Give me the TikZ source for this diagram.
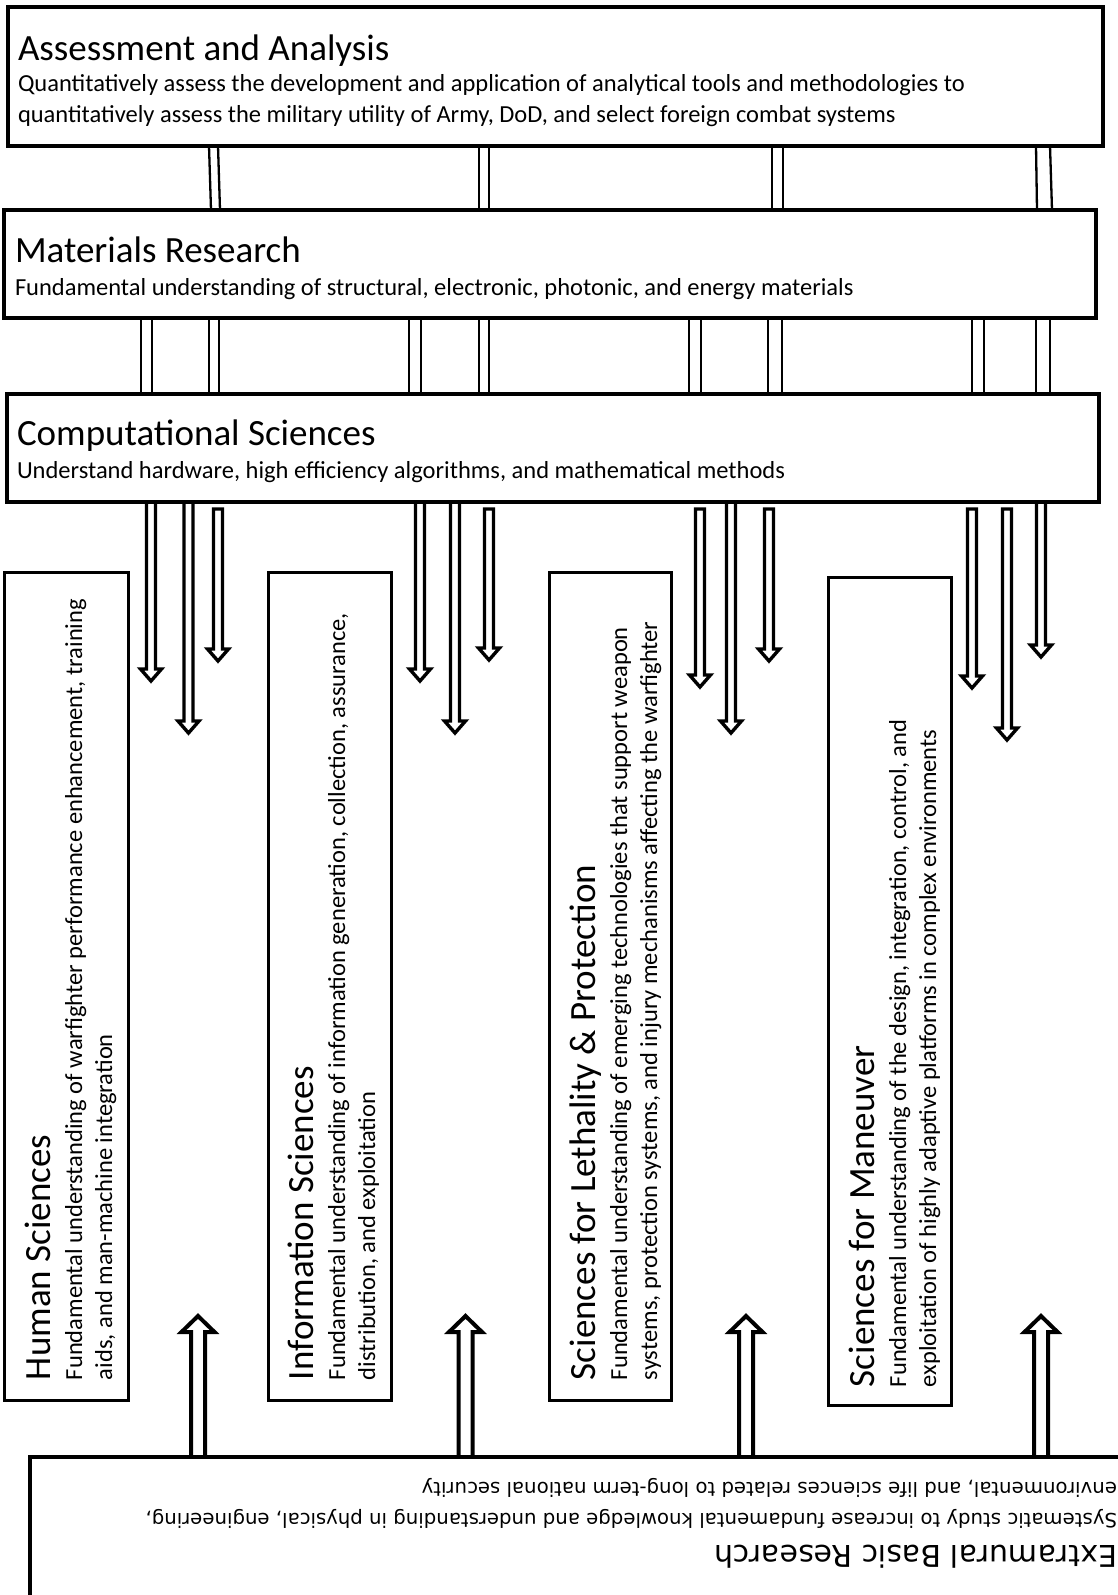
\documentclass[tikz,border=0pt]{standalone}
\usepackage{fontspec}
\setmainfont{Carlito}
\newfontfamily\extfont{DejaVu Sans}
\usetikzlibrary{calc}
\newcommand\hdown[3]{% #1 source node, #2 tip coordinate, #3 gap below the node
  \draw[harrow] let \p1=(#2), \p2=(#1.south) in
    (\x1-4.5pt,\y2-#3pt) -- (\x1-4.5pt,\y1+12pt) -- (\x1-10.5pt,\y1+12pt) -- (\x1,\y1)
    -- (\x1+10.5pt,\y1+12pt) -- (\x1+4.5pt,\y1+12pt) -- (\x1+4.5pt,\y2-#3pt) -- cycle;}
\newcommand\hup[2]{% #1 source node, #2 tip coordinate
  \draw[harrowup] let \p1=(#2), \p2=(#1.north) in
    (\x1-7pt,\y2) -- (\x1-7pt,\y1-16pt) -- (\x1-16.5pt,\y1-16pt) -- (\x1,\y1)
    -- (\x1+16.5pt,\y1-16pt) -- (\x1+7pt,\y1-16pt) -- (\x1+7pt,\y2);}
\begin{document}
\begin{tikzpicture}[x=1pt,y=-1pt,
  box/.style={draw, line width=3.3pt, rectangle, inner sep=0pt, outer sep=0pt, anchor=north west},
  vbox/.style={draw, line width=3pt, rectangle, inner sep=0pt, outer sep=0pt, anchor=north west},
  ttl/.style={inner sep=0pt, outer sep=0pt, anchor=base west, font=\fontsize{37}{44}\selectfont},
  dsc/.style={inner sep=0pt, outer sep=0pt, anchor=base west, font=\fontsize{24.5}{30}\selectfont},
  vttl/.style={ttl, rotate=90},
  vdsc/.style={dsc, rotate=90},
  ettl/.style={inner sep=0pt, outer sep=0pt, anchor=base west, rotate=180, font=\extfont\fontsize{30}{36}\selectfont},
  edsc/.style={inner sep=0pt, outer sep=0pt, anchor=base west, rotate=180, font=\extfont\fontsize{19.7}{24}\selectfont},
  conn/.style={line width=2.3pt},
  harrow/.style={line width=3.4pt, line join=miter},
  harrowup/.style={line width=4pt, line join=miter},
]
\useasboundingbox (0,0) rectangle (1118,1595);
\clip (0,0) rectangle (1118,1595);
\fill[white] (0,0) rectangle (1118,1595);

% horizontal boxes
\node[box, minimum width=1095pt, minimum height=139pt] (A) at (8,7) {};
\node[box, minimum width=1092pt, minimum height=108pt] (M) at (4,210) {};
\node[box, minimum width=1092pt, minimum height=108pt] (C) at (7,394) {};

\node[ttl] (At) at (18,60) {Assessment and Analysis};
\node[dsc] (Ad1) at (18,92) {Quantitatively assess the development and application of analytical tools and methodologies to};
\node[dsc] (Ad2) at (18,122) {quantitatively assess the military utility of Army, DoD, and select foreign combat systems};

\node[ttl] (Mt) at (15,262) {Materials Research};
\node[dsc] (Md) at (15,295) {Fundamental understanding of structural, electronic, photonic, and energy materials};

\node[ttl] (Ct) at (17,445) {Computational Sciences};
\node[dsc] (Cd) at (17,478) {Understand hardware, high efficiency algorithms, and mathematical methods};

% vertical boxes
\node[vbox, minimum width=124pt, minimum height=828pt] (H) at (4,572) {};
\node[vbox, minimum width=123pt, minimum height=828pt] (I) at (268,572) {};
\node[vbox, minimum width=122pt, minimum height=828pt] (L) at (549,572) {};
\node[vbox, minimum width=123pt, minimum height=828pt] (V) at (828,577) {};

\node[vttl] (Ht) at (50,1380) {Human Sciences};
\node[vdsc] (Hd1) at (82,1380) {Fundamental understanding of warfighter performance enhancement, training};
\node[vdsc] (Hd2) at (112,1380) {aids, and man-machine integration};

\node[vttl] (It) at (313,1380) {Information Sciences};
\node[vdsc] (Id1) at (345,1380) {Fundamental understanding of information generation, collection, assurance,};
\node[vdsc] (Id2) at (375,1380) {distribution, and exploitation};

\node[vttl] (Lt) at (595,1380) {Sciences for Lethality \& Protection};
\node[vdsc] (Ld1) at (627,1380) {Fundamental understanding of emerging technologies that support weapon};
\node[vdsc] (Ld2) at (657,1380) {systems, protection systems, and injury mechanisms affecting the warfighter};

\node[vttl] (Vt) at (874,1387) {Sciences for Maneuver};
\node[vdsc] (Vd1) at (906,1387) {Fundamental understanding of the design, integration, control, and};
\node[vdsc] (Vd2) at (936,1387) {exploitation of highly adaptive platforms in complex environments};

% bottom (upside-down) box
\node[box, minimum width=1150pt, minimum height=200pt] (E) at (30,1457) {};
\node[ettl] (Et) at (1117,1545) {Extramural Basic Research};
\node[edsc] (Ed1) at (1117,1513) {Systematic study to increase fundamental knowledge and understanding in physical, engineering,};
\node[edsc] (Ed2) at (1117,1482) {environmental, and life sciences related to long-term national security};

% double-line connectors A -- M
\foreach \xt/\xb in {209/211, 218/220, 479/479, 489/489, 772/772, 783/783, 1036/1037, 1050/1052}
  \draw[conn] (\xt,0 |- A.south) -- (\xb,0 |- M.north);
% double-line connectors M -- C
\foreach \xx in {141, 152, 209, 219, 409, 421, 479, 489, 689, 701, 768, 782, 972, 984, 1036, 1050}
  \draw[conn] (\xx,0 |- M.south) -- (\xx,0 |- C.north);

% tips of the hollow arrows from C
\coordinate (d1) at (151,681);
\coordinate (d2) at (188.5,733);
\coordinate (d3) at (218,661);
\coordinate (d4) at (420,681);
\coordinate (d5) at (455,733);
\coordinate (d6) at (489,660);
\coordinate (d7) at (700,687);
\coordinate (d8) at (731,733);
\coordinate (d9) at (769,661);
\coordinate (d10) at (972,688);
\coordinate (d11) at (1007,740);
\coordinate (d12) at (1041,657);

\hdown{C}{d1}{0}
\hdown{C}{d2}{0}
\hdown{C}{d3}{7}
\hdown{C}{d4}{0}
\hdown{C}{d5}{0}
\hdown{C}{d6}{7}
\hdown{C}{d7}{7}
\hdown{C}{d8}{0}
\hdown{C}{d9}{7}
\hdown{C}{d10}{7}
\hdown{C}{d11}{7}
\hdown{C}{d12}{0}

% hollow arrows from E
\coordinate (u1) at (198,1316);
\coordinate (u2) at (465.5,1316);
\coordinate (u3) at (746,1316);
\coordinate (u4) at (1041,1316);
\hup{E}{u1}
\hup{E}{u2}
\hup{E}{u3}
\hup{E}{u4}
\end{tikzpicture}
\end{document}
